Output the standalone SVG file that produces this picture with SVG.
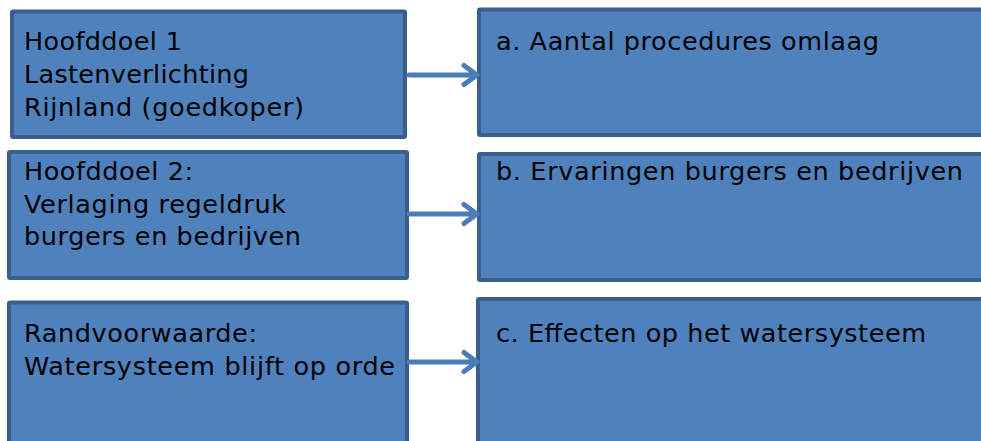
<svg xmlns="http://www.w3.org/2000/svg" width="981" height="441" viewBox="0 0 981 441">
<style>
.box{fill:#4F81BD;stroke:#3A5F8C;stroke-width:4}
.t{font-family:"DejaVu Sans",Verdana,sans-serif;font-size:25.5px;fill:#000}
.c{fill:none;stroke:#4A7EBB;stroke-width:5;stroke-linecap:round;stroke-linejoin:round}
</style>
<rect width="981" height="441" fill="#fff"/>
<g id="n1"><rect class="box" x="12" y="11.5" width="393" height="125.5" rx="1"/>
<text class="t" x="24" y="50" textLength="158" lengthAdjust="spacing">Hoofddoel 1</text>
<text class="t" x="24" y="83" textLength="225" lengthAdjust="spacing">Lastenverlichting</text>
<text class="t" x="24" y="115.5" textLength="280" lengthAdjust="spacing">Rijnland (goedkoper)</text></g>
<g id="na"><rect class="box" x="479" y="9.5" width="520" height="125.5" rx="1"/>
<text class="t" x="496" y="50" textLength="383" lengthAdjust="spacing">a. Aantal procedures omlaag</text></g>
<g id="n2"><rect class="box" x="9" y="152" width="398" height="126" rx="1"/>
<text class="t" x="24" y="180" textLength="169" lengthAdjust="spacing">Hoofddoel 2:</text>
<text class="t" x="24" y="212.7" textLength="262" lengthAdjust="spacing">Verlaging regeldruk</text>
<text class="t" x="24" y="245" textLength="277" lengthAdjust="spacing">burgers en bedrijven</text></g>
<g id="nb"><rect class="box" x="479" y="154" width="520" height="126" rx="1"/>
<text class="t" x="496" y="180" textLength="467" lengthAdjust="spacing">b. Ervaringen burgers en bedrijven</text></g>
<g id="n3"><rect class="box" x="9" y="302.5" width="398" height="200" rx="1"/>
<text class="t" x="24" y="341.7" textLength="233" lengthAdjust="spacing">Randvoorwaarde:</text>
<text class="t" x="24" y="375" textLength="371" lengthAdjust="spacing">Watersysteem blijft op orde</text></g>
<g id="nc"><rect class="box" x="478" y="299" width="520" height="200" rx="1"/>
<text class="t" x="496" y="341.7" textLength="430" lengthAdjust="spacing">c. Effecten op het watersysteem</text></g>
<g id="connectors">
<path class="c" d="M409 75H476M464 65.5L477 75L464 84.5"/>
<path class="c" d="M409 214H476M464 204.5L477 214L464 223.5"/>
<path class="c" d="M409 362H476M464 352.5L477 362L464 371.5"/>
</g>
</svg>
